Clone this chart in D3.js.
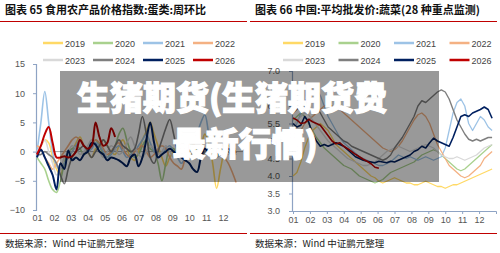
<!DOCTYPE html>
<html><head><meta charset="utf-8">
<script src="https://cdn.jsdelivr.net/npm/d3@7"></script>
<style>
html,body{margin:0;padding:0;background:#fff;}
svg{display:block;}
</style></head>
<body>
<svg id="c" width="500" height="253"></svg>
<script>
// ---------- data ----------
const years = ["2019","2020","2021","2022","2023","2024","2025","2026"];
const monthLabels = ["01","02","03","04","05","06","07","08","09","10","11","12"];
const leftTitle = "图表 65 食用农产品价格指数:蛋类:周环比";
const rightTitle = "图表 66 中国:平均批发价:蔬菜(28 种重点监测)";
const sourceText = "数据来源：Wind 中证鹏元整理";
const overlayLine1 = "生猪期货(生猪期货费";
const overlayLine2 = "最新行情)";
const leftTicks = [-10,-5,0,5,10,15];
const rightTicks = [3.0,3.5,4.0,4.5,5.0,5.5,6.0,6.5,7.0];

// egg price index, week-on-week % (weekly)
const egg2019 = [0.5,1,2,1.5,-1,-3,-4,-2,-1,0,1.5,2.5,1,0,-1,0.5,1,2,1,0,-0.5,1,2,0.5,-1,-1.5,0,2,3.5,5,3,1,-1,-2.5,-1,0,1,2,1,0.5,-1,-0.5,1,3,1.5,-2,-6.3,-3,0,1,0.5,0];
const egg2020 = [-1,-2,-3,-5,-6.5,-7,-5,-2,0,0.5,1,0.5,-0.5,0,1,2,1,-0.5,-1,0,1,3,4,2,0,-1,-0.5,1,2,0.5,0,-2,-5,-2,0.5,0.5,-0.5,0,1,2,1,0,-1,0,0.5,-0.5,-1,0,1,0.5,0,-0.5];
const egg2021 = [0,5,10.3,5,0,-2.5,-3,-2,-1,0,1,2,1,0,0.5,1.5,1,0,-1,-0.5,0.5,1,0,-1,-0.5,0,1,2,3,1.5,0,-1,-0.5,0.5,1,0,-1,-2,-1,0,1,3,5,6.3,3,0,-1,-0.5,0,0.5,0,-0.5];
const egg2022 = [1,0.5,-1,-2,-3,-2,-1,0,1,2,2.5,2,1,0.5,1,2,1.5,0.5,-0.5,0,1,1.5,0.5,-0.5,-1,0,0.5,1,0,-1,-0.5,0.5,1,0.5,-1,-2,-2.5,-3,-1,0.5,1,2,1.5,0.5,-0.5,0,1,0.5,-1,-2,-3.5,-5.3];
const egg2023 = [0,1,2,0,-2,-4,-3,-1,0,1,0.5,-0.5,0,1,2,1,0,-1,0,1,0.5,-0.5,0,1.5,2.5,1,-0.5,-1,0,1,0.5,-0.5,0,1,0,-1,-0.5,0.5,1,0,-1,0,1,0.5,-0.5,-1,0,0.5,0,-0.5,0,0.5];
const egg2024 = [-0.5,-0.5,0,-0.5,-1,-2,-4,-5.5,-3,-1,0,0.5,1,0,-1,0,1,2,1,0,1,2,1,0.5,0,0.5,3,6,3,-1,-2,0,2,4,5.5,3,0,-1,0,1,0.5,-0.5,-1,0,0.5,0,-0.5,0,0.5,0,-0.5,0];
const egg2025 = [-1,0.3,-1,-2.5,-4,-6.5,-2,-3,0.2,-1.5,-1,-1.5,-0.5,0,1.5,1.2,0,-0.5,-1.5,-1,-1.2,-1.5,-2,-2.5,-1,-0.5,-2.5,-1,2,5,1.5,-1,-0.5,0,0.5,0,-0.5,-1,-1.5,-2,-3,-3.5,-1,0.5,0,0.5,0,-0.5,0,0.5,0,0];
const egg2026 = [-0.5,1,3,4.2,1.5,-1,-1,-0.8,-1,-0.8,0,2,1,0.5,1,5,2.5,1,1.5,4,2.5];

// vegetable average wholesale price, yuan/kg (weekly)
const veg2019 = [4.0,4.1,4.4,4.8,5.1,5.3,5.4,5.5,5.4,5.3,5.1,4.9,4.8,4.7,4.6,4.5,4.4,4.3,4.2,4.1,4.0,3.95,3.85,3.8,3.85,3.9,3.95,3.9,3.85,3.8,3.8,3.75,3.75,3.8,3.85,3.8,3.75,3.7,3.7,3.65,3.7,3.75,3.75,3.8,3.85,3.9,3.95,4.0,4.05,4.1,4.15,4.2];
const veg2020 = [5.6,5.7,5.8,5.7,5.5,5.3,5.1,4.95,4.8,4.7,4.6,4.5,4.4,4.3,4.25,4.2,4.1,4.0,3.95,3.9,3.85,3.8,3.85,3.9,4.0,4.1,4.15,4.2,4.25,4.3,4.35,4.4,4.5,4.6,4.65,4.7,4.75,4.7,4.6,4.5,4.4,4.3,4.2,4.15,4.2,4.3,4.4,4.5,4.6,4.7,4.8,4.9];
const veg2021 = [5.3,5.5,5.8,6.0,6.2,6.4,6.5,6.3,6.0,5.7,5.5,5.3,5.1,4.95,4.85,4.75,4.65,4.55,4.5,4.45,4.4,4.35,4.3,4.3,4.35,4.4,4.5,4.6,4.55,4.5,4.55,4.5,4.45,4.5,4.55,4.5,4.45,4.5,4.55,4.8,5.3,5.8,6.1,6.2,6.0,5.5,5.3,5.5,5.7,5.6,5.4,5.3];
const veg2022 = [5.0,5.1,5.3,5.5,5.6,5.7,5.8,5.9,6.0,6.05,6.0,5.95,5.9,5.8,5.7,5.6,5.5,5.4,5.3,5.2,5.1,5.0,4.9,4.8,4.75,4.7,4.75,4.85,5.0,5.2,5.4,5.6,5.75,5.8,5.7,5.5,5.2,4.9,4.7,4.5,4.3,4.2,4.1,4.0,3.95,4.0,4.1,4.2,4.3,4.5,4.6,4.7];
const veg2023 = [5.4,5.6,5.7,5.8,5.75,5.6,5.45,5.3,5.15,5.0,4.9,4.8,4.7,4.6,4.5,4.45,4.4,4.35,4.3,4.3,4.35,4.4,4.5,4.6,4.7,4.75,4.8,4.85,4.8,4.75,4.7,4.75,4.8,4.85,4.9,4.85,4.8,4.7,4.6,4.55,4.5,4.5,4.55,4.5,4.45,4.5,4.55,4.6,4.7,4.8,4.85,4.9];
const veg2024 = [5.8,5.9,6.0,6.1,6.3,6.2,6.0,5.8,5.6,5.4,5.3,5.2,5.1,5.0,4.95,4.85,4.8,4.75,4.7,4.65,4.6,4.55,4.5,4.45,4.5,4.6,4.8,4.95,5.1,5.3,5.5,5.7,6.0,6.15,6.1,6.2,6.3,6.4,6.46,6.4,6.2,5.9,5.6,5.4,5.2,5.05,5.0,5.05,5.0,5.05,5.1,5.1];
const veg2025 = [5.5,5.4,5.45,5.7,5.55,5.2,5.0,4.85,4.9,4.85,4.9,4.95,4.9,4.85,4.75,4.65,4.55,4.5,4.45,4.42,4.4,4.38,4.42,4.4,4.38,4.42,4.4,4.45,4.5,4.55,4.6,4.7,4.75,4.85,4.8,4.95,5.08,5.0,4.95,4.9,4.85,5.1,5.4,5.7,5.75,5.7,5.8,5.85,5.9,5.97,5.9,5.65];
const veg2026 = [5.66,5.6,5.5,5.52,5.62,5.55,5.5,5.45,5.3,5.15,5.0,4.92,4.95,4.85,4.78,4.7,4.62,4.55,4.48,4.42,4.35,4.25,4.22];

const eggSeries = [egg2019,egg2020,egg2021,egg2022,egg2023,egg2024,egg2025,egg2026];
const vegSeries = [veg2019,veg2020,veg2021,veg2022,veg2023,veg2024,veg2025,veg2026];

// ---------- styles ----------
const colors = ["#ffd966","#a9d18e","#9dc3e6","#f4b183","#d9d9d9","#7f7f7f","#002060","#c00000"];
const widthsLeft = [1.6,1.6,1.6,1.6,1.6,1.6,2,2];
const widthsRight = [1.3,1.3,1.3,1.3,1.3,1.4,1.6,1.6];
const sansFont = "'Liberation Sans', Arial, sans-serif";
const cjkFont = "'Noto Sans CJK SC', sans-serif";

const svg = d3.select("#c");

function panel(ox, title, series, yDomain, yRange, xRange, ticks, tickFmt, curve, widths, opts) {
  const g = svg.append("g");
  g.append("text").attr("x", ox + 5).attr("y", 14)
    .attr("font-family", cjkFont).attr("font-weight", 700).attr("font-size", 11)
    .attr("fill", "#111").text(title);
  g.append("line").attr("x1", ox).attr("x2", ox + 247).attr("y1", 21.5).attr("y2", 21.5)
    .attr("stroke", "#c00000").attr("stroke-width", 1);
  g.append("line").attr("x1", ox).attr("x2", ox + 247).attr("y1", 233.5).attr("y2", 233.5)
    .attr("stroke", "#c00000").attr("stroke-width", 1);
  g.append("text").attr("x", ox + 5).attr("y", 247)
    .attr("font-family", cjkFont).attr("font-size", 9.5).attr("fill", "#222").text(sourceText);

  const legX = opts.legX, legStep = opts.legStep;
  years.forEach((yr, i) => {
    const col = i % 4, row = Math.floor(i / 4);
    const lx = ox + legX + col * legStep, ly = 43 + row * 17;
    g.append("line").attr("x1", lx).attr("x2", lx + 20).attr("y1", ly).attr("y2", ly)
      .attr("stroke", colors[i]).attr("stroke-width", 2.5);
    g.append("text").attr("x", lx + 22).attr("y", ly + 3.5)
      .attr("font-family", sansFont).attr("font-size", 9).attr("fill", "#444").text(yr);
  });

  const x = d3.scaleLinear().domain([0, 12]).range(xRange);
  const y = d3.scaleLinear().domain(yDomain).range(yRange);
  const wk = d3.scaleLinear().domain([0, 52]).range([0, 12]);

  const ya = d3.axisLeft(y).tickValues(ticks).tickSize(3).tickPadding(opts.yPad).tickFormat(tickFmt);
  const yg = g.append("g").attr("transform", `translate(${xRange[0] - 1},0)`).call(ya);
  yg.select(".domain").attr("stroke", "#8ea3c4").attr("stroke-width", 1.2);
  yg.selectAll(".tick line").attr("stroke", "#8ea3c4");
  yg.selectAll("text").attr("font-family", sansFont).attr("font-size", 9).attr("fill", "#555");

  const xa = d3.axisBottom(x).tickValues(d3.range(12)).tickFormat(i => monthLabels[i])
    .tickSize(opts.xTick).tickPadding(opts.xPad);
  const xg = g.append("g").attr("transform", `translate(0,${opts.xAxisY})`).call(xa);
  xg.select(".domain").attr("stroke", opts.showXDomain ? "#8ea3c4" : "none");
  xg.selectAll(".tick line").attr("stroke", "#8ea3c4");
  xg.selectAll("text").attr("font-family", sansFont).attr("font-size", 9).attr("fill", "#555");

  if (opts.zeroLine) {
    g.append("line").attr("x1", xRange[0]).attr("x2", xRange[1] + 3)
      .attr("y1", y(0)).attr("y2", y(0)).attr("stroke", "#a6a6a6").attr("stroke-width", 1);
  }

  const line = d3.line().x((d, i) => x(wk(i))).y(d => y(d)).curve(curve);
  series.forEach((s, i) => {
    g.append("path").attr("d", line(s)).attr("fill", "none")
      .attr("stroke", colors[i]).attr("stroke-width", widths[i])
      .attr("stroke-linejoin", "round");
  });
}

panel(0, leftTitle, eggSeries, [-10, 15], [210, 64], [37, 240], leftTicks, d3.format("d"),
  d3.curveCatmullRom.alpha(0.5), widthsLeft,
  {legX: 43, legStep: 50, yPad: 8, xTick: 0, xPad: 0, xAxisY: 215, showXDomain: false, zeroLine: true});

panel(250, rightTitle, vegSeries, [3, 7], [211, 71], [293, 496], rightTicks, d3.format(".1f"),
  d3.curveLinear, widthsRight,
  {legX: 33, legStep: 55.5, yPad: 9, xTick: 3, xPad: 3, xAxisY: 211, showXDomain: true, zeroLine: false});

// ---------- overlay ----------
svg.append("rect").attr("x", 60).attr("y", 71).attr("width", 379).attr("height", 111)
  .attr("fill", "#000").attr("fill-opacity", 0.4);
svg.append("text").attr("x", 232).attr("y", 110).attr("text-anchor", "middle")
  .attr("font-family", cjkFont).attr("font-weight", 900).attr("font-size", 33)
  .attr("fill", "#fff").attr("stroke", "#fff").attr("stroke-width", 1.2).text(overlayLine1);
svg.append("text").attr("x", 245).attr("y", 156).attr("text-anchor", "middle")
  .attr("font-family", cjkFont).attr("font-weight", 900).attr("font-size", 33)
  .attr("fill", "#fff").attr("stroke", "#fff").attr("stroke-width", 1.2).text(overlayLine2);
</script>
</body></html>
